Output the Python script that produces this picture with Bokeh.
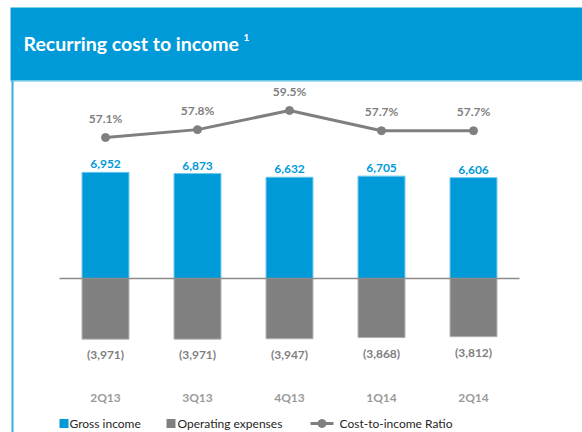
from bokeh.plotting import figure
from bokeh.models import Range1d, BoxAnnotation, Label
from bokeh.core.properties import value
from bokeh.embed import file_html
from bokeh.resources import INLINE

# ---- data ----
quarters = ["2Q13", "3Q13", "4Q13", "1Q14", "2Q14"]
gross_income = [6952, 6873, 6632, 6705, 6606]
operating_expenses = [-3971, -3971, -3947, -3868, -3812]
cost_to_income = [57.1, 57.8, 59.5, 57.7, 57.7]

title = "Recurring cost to income"
legend_labels = ["Gross income", "Operating expenses", "Cost-to-income  Ratio"]

# ---- styling / layout ----
BLUE = "#009AD8"
GRAY = "#808080"
W, H = 582, 432
U = 65.5          # bar units per pixel
ZERO_PY = 278     # pixel row of zero line
X_PX = 92         # pixels per category
X0_PX = 105       # pixel column of first category
R_PX = 11.25      # pixels per ratio percent
R0_PY = 137       # pixel row of first ratio point

x_start = -X0_PX / X_PX
x_end = x_start + W / X_PX
y_start = -(H - ZERO_PY) * U
y_end = ZERO_PY * U
r_start = cost_to_income[0] - (H - R0_PY) / R_PX
r_end = r_start + H / R_PX


def px_x(px):
    return x_start + px / X_PX


def px_y(py):
    return y_end - py * U


p = figure(width=W, height=H, x_range=Range1d(x_start, x_end),
           y_range=Range1d(y_start, y_end), output_backend="svg",
           toolbar_location=None, min_border=0, outline_line_color=None,
           x_axis_location=None, y_axis_location=None)
p.grid.visible = False
p.extra_y_ranges = {"ratio": Range1d(r_start, r_end)}

idx = list(range(len(quarters)))
FONT = value("Lato")

p.vbar(x=idx, top=gross_income, bottom=0, width=0.51, fill_color=BLUE,
       line_color="#6cc6ea", line_width=1)
p.vbar(x=idx, top=0, bottom=operating_expenses, width=0.51, fill_color=GRAY,
       line_color="#b0b0b0", line_width=1)
p.segment(x0=[-0.5], x1=[len(quarters) - 0.5], y0=[0], y1=[0],
          line_color="#8c8c8c", line_width=1.5)

p.text(x=idx, y=gross_income, text=[f"{v:,}" for v in gross_income],
       text_font=FONT, text_font_style="bold", text_font_size="12px",
       text_color=BLUE, text_align="center", text_baseline="alphabetic",
       y_offset=-8)
p.text(x=idx, y=operating_expenses,
       text=[f"({abs(v):,})" for v in operating_expenses],
       text_font=FONT, text_font_style="bold", text_font_size="12px",
       text_color="#7f7f7f", text_align="center", text_baseline="top",
       y_offset=8)

p.line(x=idx, y=cost_to_income, y_range_name="ratio", line_color="#7f7f7f",
       line_width=3)
p.scatter(x=idx, y=cost_to_income, y_range_name="ratio", size=8,
          fill_color="#7f7f7f", line_color="#7f7f7f")
p.text(x=idx, y=cost_to_income, y_range_name="ratio",
       text=[f"{v:.1f}%" for v in cost_to_income],
       text_font=FONT, text_font_style="bold", text_font_size="12px",
       text_color="#7f7f7f", text_align="center", text_baseline="alphabetic",
       y_offset=-19)

# category labels
p.text(x=idx, y=[px_y(397)] * len(idx), text=quarters, text_font=FONT,
       text_font_style="bold", text_font_size="12px", text_color="#9a9a9a",
       text_align="center", text_baseline="middle")

# header
p.add_layout(BoxAnnotation(left=px_x(10), right=px_x(W), top=px_y(7),
                           bottom=px_y(80), fill_color=BLUE, fill_alpha=1,
                           line_color=None, level="underlay"))
p.add_layout(BoxAnnotation(left=px_x(10), right=px_x(W), top=px_y(80),
                           bottom=px_y(81), fill_color="#5dbde6", fill_alpha=1,
                           line_color=None, level="underlay"))
p.add_layout(BoxAnnotation(left=px_x(11), right=px_x(13), top=px_y(80),
                           bottom=px_y(H), fill_color="#39ace0", fill_alpha=1,
                           line_color=None, level="underlay"))
p.add_layout(Label(x=px_x(23), y=px_y(43), text=title, text_color="white",
                   text_font="Lato", text_font_style="bold",
                   text_font_size="19.5px", text_baseline="middle"))
p.add_layout(Label(x=px_x(243), y=px_y(37), text="1", text_color="white",
                   text_font="Lato", text_font_style="bold",
                   text_font_size="10px", text_baseline="middle"))

# legend
LEG_PY = 423
p.add_layout(BoxAnnotation(left=px_x(59), right=px_x(68), top=px_y(LEG_PY - 4.5),
                           bottom=px_y(LEG_PY + 4.5), fill_color=BLUE,
                           fill_alpha=1, line_color=None))
p.add_layout(BoxAnnotation(left=px_x(166), right=px_x(175), top=px_y(LEG_PY - 4.5),
                           bottom=px_y(LEG_PY + 4.5), fill_color=GRAY,
                           fill_alpha=1, line_color=None))
p.line(x=[px_x(310), px_x(333)], y=[px_y(LEG_PY)] * 2, line_color="#7f7f7f",
       line_width=3)
p.scatter(x=[px_x(321.5)], y=[px_y(LEG_PY)], size=8, fill_color="#7f7f7f",
          line_color="#7f7f7f")
for lx, lab in zip([69, 177, 339], legend_labels):
    p.add_layout(Label(x=px_x(lx), y=px_y(LEG_PY), text=lab,
                       text_color="#262626", text_font="Lato",
                       text_font_size="12px", text_baseline="middle"))

open("out.html", "w").write(file_html(p, INLINE))
